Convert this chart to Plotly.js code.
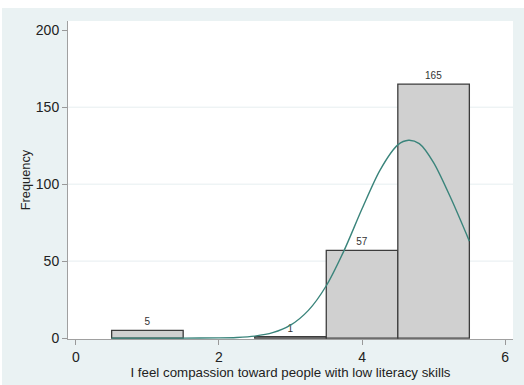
<!DOCTYPE html>
<html>
<head>
<meta charset="utf-8">
<script src="https://cdn.plot.ly/plotly-3.0.1.min.js"></script>
<style>
  html, body { margin: 0; padding: 0; background: #eaf2f3; }
  #chart { width: 524px; height: 385px; }
</style>
</head>
<body>
<div id="chart"></div>
<script>
// Response categories (bin centres) and their counts
const binCentres = [1, 3, 4, 5];
const counts = [5, 1, 57, 165];

// Fitted normal density, scaled to frequency
const curveX = [0.5, 1.0, 1.5, 2.0, 2.25, 2.5, 2.75, 3.0, 3.25, 3.5, 3.75, 4.0, 4.25, 4.5, 4.65, 4.8, 5.0, 5.25, 5.5];
const curveY = [0, 0, 0, 0.1, 0.4, 1.3, 3.5, 8.4, 18, 34, 57, 84, 109, 125.5, 128.5, 126.3, 114, 90, 63];

// Axis ticks
const xTicks = [0, 2, 4, 6];
const yTicks = [0, 50, 100, 150, 200];
const gridLevels = [50, 100, 150];

const font = "Liberation Sans, Arial, sans-serif";

const bars = {
  type: "bar",
  x: binCentres,
  y: counts,
  width: 1,
  marker: { color: "#d0d0d0", line: { color: "#3c3c3c", width: 1.3 } },
  text: counts.map(String),
  textposition: "outside",
  textfont: { family: font, size: 10, color: "#333333" },
  cliponaxis: false,
  hoverinfo: "x+y"
};

const curve = {
  type: "scatter",
  mode: "lines",
  x: curveX,
  y: curveY,
  line: { color: "#3a847b", width: 1.4, shape: "spline", smoothing: 0.8 },
  hoverinfo: "skip"
};

const shapes = gridLevels.map(v => ({
  type: "line", xref: "paper", x0: 0, x1: 1, yref: "y", y0: v, y1: v,
  line: { color: "#e6eef0", width: 1 }, layer: "below"
}));
// thin white frame along the top and left edge of the canvas
shapes.push({ type: "rect", xref: "paper", yref: "paper", x0: -0.2, x1: 1.1, y0: 1.0409, y1: 1.2,
  fillcolor: "#ffffff", line: { width: 0 }, layer: "above" });
shapes.push({ type: "rect", xref: "paper", yref: "paper", x0: -0.2, x1: -0.1483, y0: -0.2, y1: 1.2,
  fillcolor: "#ffffff", line: { width: 0 }, layer: "above" });

const layout = {
  width: 524,
  height: 385,
  margin: { l: 68, r: 11, t: 21, b: 46, pad: 0 },
  paper_bgcolor: "#eaf2f3",
  plot_bgcolor: "#ffffff",
  showlegend: false,
  bargap: 0,
  font: { family: font, size: 13, color: "#222222" },
  xaxis: {
    range: [-0.11, 6.11],
    tickvals: xTicks,
    ticktext: xTicks.map(String),
    ticks: "outside",
    ticklen: 5,
    tickcolor: "#999999",
    showline: true,
    linecolor: "#a0a0a0",
    linewidth: 1,
    showgrid: false,
    zeroline: false,
    tickfont: { family: font, size: 14, color: "#222222" },
    title: { text: "I feel compassion toward people with low literacy skills",
             font: { family: font, size: 13.3, color: "#222222" }, standoff: 1 }
  },
  yaxis: {
    range: [-0.6, 206],
    tickvals: yTicks,
    ticktext: yTicks.map(String),
    ticks: "outside",
    ticklen: 5,
    tickcolor: "#999999",
    showline: true,
    linecolor: "#a0a0a0",
    linewidth: 1,
    showgrid: false,
    zeroline: false,
    tickfont: { family: font, size: 14, color: "#222222" },
    title: { text: "Frequency", font: { family: font, size: 12.8, color: "#222222" }, standoff: 2 }
  },
  shapes: shapes
};

Plotly.newPlot("chart", [bars, curve], layout, { displayModeBar: false, staticPlot: true });
</script>
</body>
</html>
